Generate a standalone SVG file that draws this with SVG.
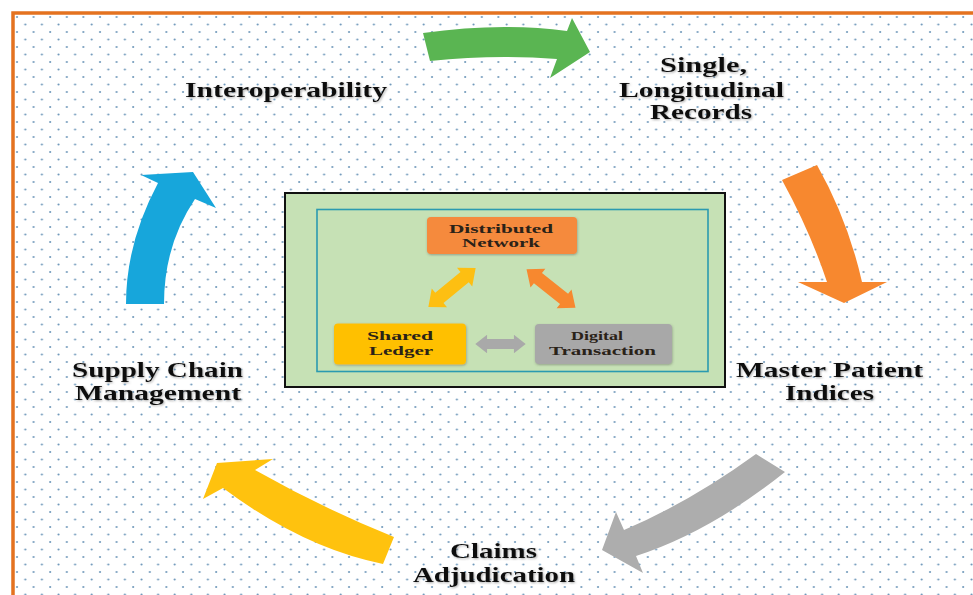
<svg xmlns="http://www.w3.org/2000/svg" width="973" height="595" viewBox="0 0 973 595">
  <style>
    .lbl { font-family: "Liberation Serif", "Times New Roman", serif; font-weight: bold; font-size: 21.5px; fill: #111; filter: url(#txtShadow); }
    .inner { font-family: "Liberation Serif", "Times New Roman", serif; font-weight: bold; font-size: 13.5px; fill: #2a2218; }
    .node { filter: url(#boxShadow); }
  </style>
  <defs>
    <pattern id="dots" patternUnits="userSpaceOnUse" x="13" y="13" width="16.6" height="15">
      <circle cx="4" cy="4" r="1.05" fill="#6b95b8"/>
      <circle cx="12.3" cy="11.5" r="1.05" fill="#6b95b8"/>
    </pattern>
    <filter id="txtShadow" x="-10%" y="-30%" width="120%" height="160%">
      <feDropShadow dx="1" dy="1" stdDeviation="0.8" flood-color="#777" flood-opacity="0.6"/>
    </filter>
    <filter id="boxShadow" x="-10%" y="-20%" width="120%" height="140%">
      <feDropShadow dx="0.5" dy="1" stdDeviation="1.2" flood-color="#555" flood-opacity="0.45"/>
    </filter>
    <polygon id="dbl" points="-30,0 -16,-12 -16,-6.5 16,-6.5 16,-12 30,0 16,12 16,6.5 -16,6.5 -16,12"/>
  </defs>

  <!-- page background and frame -->
  <rect x="0" y="0" width="973" height="595" fill="#ffffff"/>
  <rect x="13" y="13" width="970" height="600" fill="url(#dots)"/>
  <path d="M13,600 L13,13 L980,13" fill="none" stroke="#e4721f" stroke-width="3.5"/>

  <!-- cycle arrows -->
  <g id="connectors">
    <path id="arrow-green" fill="#5ab552" d="M423,33 Q500,22 567,31 L572,18 L590,52 L550,78 L557,59 Q495,54 430,61 Z"/>
    <path id="arrow-orange" fill="#f7882f" d="M782,180 L817,165 Q848,220 862,282 L887,282 L844,303 L798,282 L827,282 Q810,231 782,180 Z"/>
    <path id="arrow-gray" fill="#adadad" d="M756,454 L785,472 Q710,532 636,556 L643,573 L602,550 L616,512 L624,530 Q690,502 756,454 Z"/>
    <path id="arrow-yellow" fill="#ffc20e" d="M394,537 L383,564 Q303,548 223,488 L203,499 L217,463 L273,459 L255,470 Q322,508 394,537 Z"/>
    <path id="arrow-blue" fill="#17a6db" d="M126,304 L164,304 Q164,245 195,199 L216,208 L193,172 L141,175 L158,183 Q126,243 126,304 Z"/>
  </g>

  <!-- outer labels -->
  <g id="interoperability">
    <text class="lbl" x="185" y="97" textLength="202" lengthAdjust="spacingAndGlyphs">Interoperability</text>
  </g>
  <g id="single-records">
    <text class="lbl" x="660" y="72" textLength="87" lengthAdjust="spacingAndGlyphs">Single,</text>
    <text class="lbl" x="619" y="96.5" textLength="165" lengthAdjust="spacingAndGlyphs">Longitudinal</text>
    <text class="lbl" x="650" y="118.5" textLength="102" lengthAdjust="spacingAndGlyphs">Records</text>
  </g>
  <g id="master-patient">
    <text class="lbl" x="736" y="377" textLength="187" lengthAdjust="spacingAndGlyphs">Master Patient</text>
    <text class="lbl" x="785" y="400" textLength="89" lengthAdjust="spacingAndGlyphs">Indices</text>
  </g>
  <g id="claims">
    <text class="lbl" x="450" y="558" textLength="87" lengthAdjust="spacingAndGlyphs">Claims</text>
    <text class="lbl" x="413" y="582" textLength="162" lengthAdjust="spacingAndGlyphs">Adjudication</text>
  </g>
  <g id="supply-chain">
    <text class="lbl" x="72" y="376.5" textLength="171" lengthAdjust="spacingAndGlyphs">Supply Chain</text>
    <text class="lbl" x="75" y="400" textLength="166" lengthAdjust="spacingAndGlyphs">Management</text>
  </g>

  <!-- central blockchain panel -->
  <g id="core-panel">
    <rect x="285" y="193" width="440" height="194" fill="#c6e1b5" stroke="#111" stroke-width="2"/>
    <rect x="317" y="209.5" width="391" height="162" fill="none" stroke="#2b9ab0" stroke-width="1.6"/>
  </g>

  <g id="core-connectors">
    <use href="#dbl" fill="#fdbf12" transform="translate(452,287.5) rotate(-39.4) scale(1.02,1)"/>
    <use href="#dbl" fill="#f7882f" transform="translate(551,288.5) rotate(38.3) scale(1.04,1)"/>
    <use href="#dbl" fill="#a9a9a9" transform="translate(500.5,344) scale(0.84,0.78)"/>
  </g>

  <g id="distributed-network">
    <rect class="node" x="427" y="217" width="150" height="37" rx="4" fill="#f58a3c"/>
    <text class="inner" x="449" y="232.5" textLength="104" lengthAdjust="spacingAndGlyphs">Distributed</text>
    <text class="inner" x="462" y="247" textLength="78" lengthAdjust="spacingAndGlyphs">Network</text>
  </g>
  <g id="shared-ledger">
    <rect class="node" x="334" y="323.5" width="132" height="41" rx="4" fill="#ffc000"/>
    <text class="inner" x="367" y="340" textLength="66" lengthAdjust="spacingAndGlyphs">Shared</text>
    <text class="inner" x="369" y="354.5" textLength="64" lengthAdjust="spacingAndGlyphs">Ledger</text>
  </g>
  <g id="digital-transaction">
    <rect class="node" x="535" y="324" width="137" height="40" rx="4" fill="#a8a8a8"/>
    <text class="inner" x="571" y="340" textLength="52" lengthAdjust="spacingAndGlyphs">Digital</text>
    <text class="inner" x="549" y="354.5" textLength="107" lengthAdjust="spacingAndGlyphs">Transaction</text>
  </g>
</svg>
